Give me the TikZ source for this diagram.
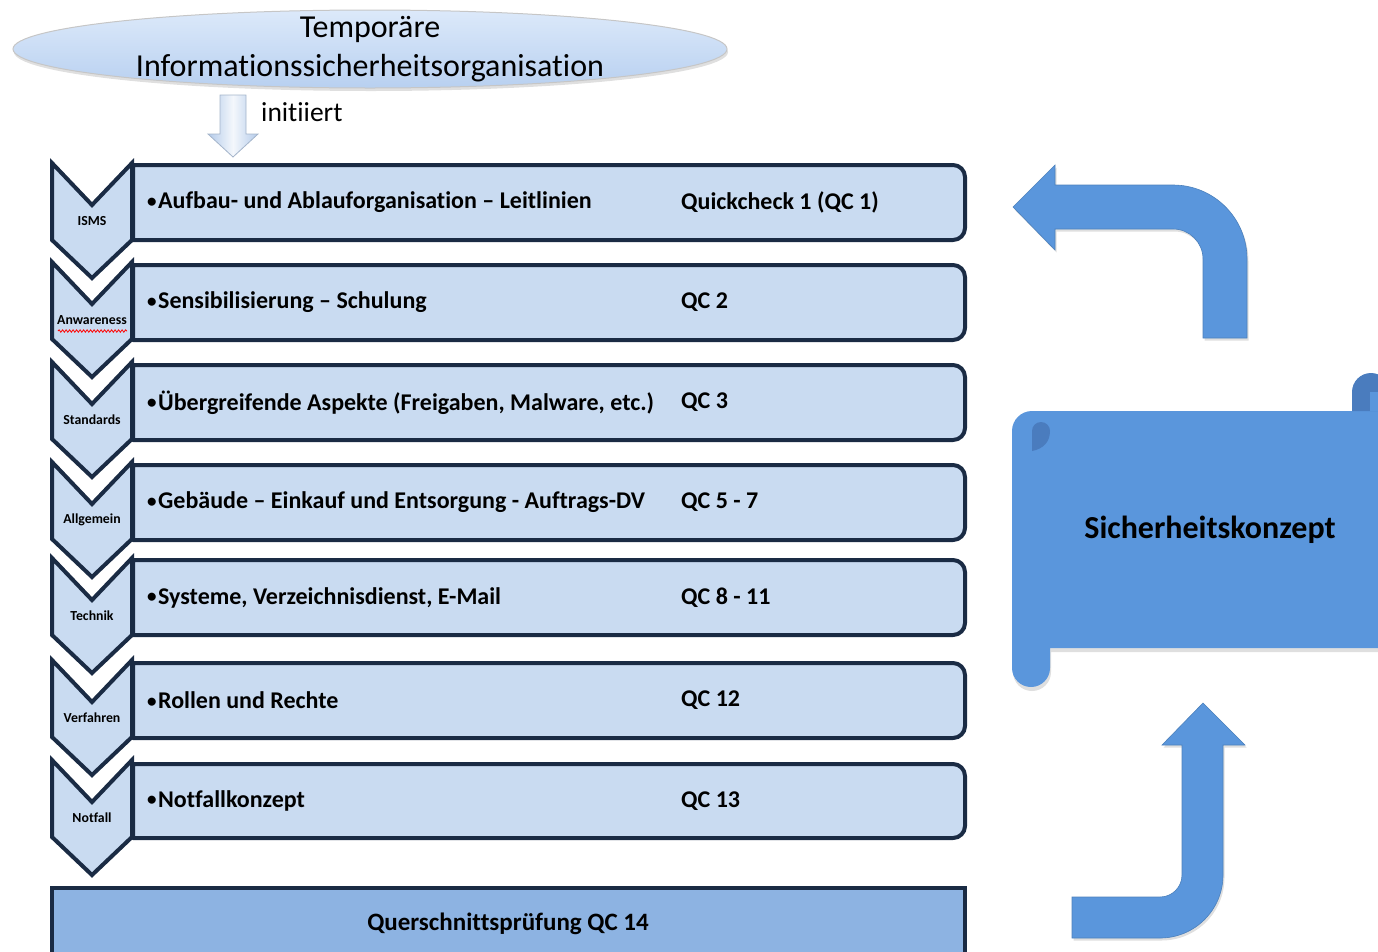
\documentclass[tikz,border=0pt]{standalone}
\usepackage{fontspec}
\setmainfont{Carlito}[Ligatures=NoCommon]
\usetikzlibrary{shadows,decorations.pathmorphing}
\definecolor{navy}{HTML}{1A2B44}
\definecolor{rowfill}{HTML}{C9DBF1}
\definecolor{barfill}{HTML}{8DB3E2}
\definecolor{midblue}{HTML}{5A96DC}
\definecolor{darkcurl}{HTML}{4A7CBE}
\definecolor{elltop}{HTML}{DCE9FA}
\definecolor{ellbot}{HTML}{B8D0F0}
\definecolor{arrl}{HTML}{B4CBEA}
\newcommand\smbul{\raisebox{1.8pt}{\fontsize{19}{20}\selectfont•}\hspace{1.5pt}}
\tikzset{
  rowbox/.style={fill=rowfill, draw=navy, line width=4pt, line join=round},
  chev/.style={fill=rowfill, draw=navy, line width=4pt, line join=miter},
  rowtxt/.style={anchor=west, inner sep=0pt, font=\fontsize{24}{28}\selectfont\bfseries},
  chevtxt/.style={inner sep=0pt, font=\fontsize{13.8}{16}\selectfont\bfseries},
  bigarrow/.style={fill=midblue, draw=midblue!85!black, line width=0.6pt,
     drop shadow={opacity=0.25, shadow xshift=1.5pt, shadow yshift=-2.5pt}},
}
\begin{document}
\begin{tikzpicture}[x=1pt,y=-1pt]
\useasboundingbox (0,0) rectangle (1378,951);
\clip (0,0) rectangle (1378,951);

% top ellipse
\path[top color=elltop, bottom color=ellbot, draw=gray!45, line width=1pt,
      drop shadow={opacity=0.25, shadow xshift=1pt, shadow yshift=-3pt}]
  (370,49) ellipse [x radius=357, y radius=39];
\node[align=center, inner sep=0pt, font=\fontsize{32}{39}\selectfont] (temp) at (370,49)
  {Temporäre\\Informationssicherheitsorganisation};

% initiiert arrow
\path[left color=arrl, right color=arrl, middle color=white!85!arrl, draw=arrl!70!gray, line width=0.8pt]
  (220,95) -- (246,95) -- (246,134) -- (258,134) -- (233,157) -- (208,134) -- (220,134) -- cycle;
\node[anchor=west, inner sep=0pt, font=\fontsize{27.5}{32}\selectfont] (init) at (261,112) {initiiert};

% chevrons
\foreach \T/\lab/\n in {163/ISMS/1, 262/Anwareness/2, 362/Standards/3, 462/Allgemein/4,
                        558/Technik/5, 660/Verfahren/6, 760/Notfall/7}{
  \draw[chev] (52,\T) -- (92,{\T+42}) -- (132,\T) -- (132,{\T+77}) -- (92,{\T+115}) -- (52,{\T+77}) -- cycle;
  \node[chevtxt] (c\n) at (92,{\T+58}) {\lab};
}
\draw[red, line width=0.8pt, decorate, decoration={snake, amplitude=1.2pt, segment length=3.5pt}]
  (58,331) -- (127,331);

% rows
\foreach \t/\b/\txt/\qc/\n in {
  165/240/{Aufbau- und Ablauforganisation – Leitlinien}/{Quickcheck 1 (QC 1)}/1,
  265/340/{Sensibilisierung – Schulung}/{QC 2}/2,
  365/440/{Übergreifende Aspekte (Freigaben, Malware, etc.)}/{QC 3}/3,
  465/540/{Gebäude – Einkauf und Entsorgung - Auftrags-DV}/{QC 5 - 7}/4,
  560/635/{Systeme, Verzeichnisdienst, E-Mail}/{QC 8 - 11}/5,
  663/738/{Rollen und Rechte}/{QC 12}/6,
  764/838/{Notfallkonzept}/{QC 13}/7}{
  \draw[rowbox] (133,\t) -- (953,\t) arc[start angle=-90, end angle=0, radius=12]
     -- (965,{\b-12}) arc[start angle=0, end angle=90, radius=12] -- (133,\b) -- cycle;
  \node[rowtxt] (r\n) at (147,{(\t+\b)/2}) {\smbul\txt};
  \node[rowtxt] (q\n) at (681,{(\t+\b)/2}) {\qc};
}

% bottom bar
\draw[fill=barfill, draw=navy, line width=4pt] (52,888) rectangle (965,975);
\node[inner sep=0pt, font=\fontsize{25}{29}\selectfont\bfseries] (qc14) at (508,924) {Querschnittsprüfung QC 14};

% top bent arrow (pointing left)
\path[bigarrow] (1013,207) -- (1055,165) -- (1055,185) -- (1173,185)
  arc[start angle=270, end angle=360, radius=74] -- (1247,338) -- (1203,338) -- (1203,259)
  arc[start angle=0, end angle=-90, radius=30] -- (1055,229) -- (1055,250) -- cycle;

% bottom bent arrow (pointing up)
\path[bigarrow] (1203,703) -- (1245,745) -- (1223,745) -- (1223,875)
  arc[start angle=0, end angle=90, radius=63] -- (1072,938) -- (1072,897) -- (1160,897)
  arc[start angle=90, end angle=0, radius=22] -- (1182,745) -- (1162,745) -- cycle;

% scroll
\path[fill=midblue, drop shadow={opacity=0.25, shadow xshift=1pt, shadow yshift=-4pt}]
  (1012,668) -- (1012,431) arc[start angle=180, end angle=270, radius=20] -- (1400,411)
  -- (1400,648) -- (1050,648) -- (1050,668) arc[start angle=0, end angle=180, radius=19] -- cycle;
\path[fill=darkcurl] (1352,411) -- (1352,392) arc[start angle=180, end angle=360, radius=19] -- (1390,411) -- cycle;
\path[fill=midblue] (1370,392) -- (1390,392) -- (1390,411) -- (1370,411) -- cycle;
\path[fill=darkcurl] (1032,451) -- (1032,431) arc[start angle=180, end angle=360, radius=9]
  .. controls (1050,442) and (1043,449) .. (1032,451);
\node[inner sep=0pt, font=\fontsize{32}{36}\selectfont\bfseries] (sk) at (1210,530) {Sicherheitskonzept};
\end{tikzpicture}
\end{document}
